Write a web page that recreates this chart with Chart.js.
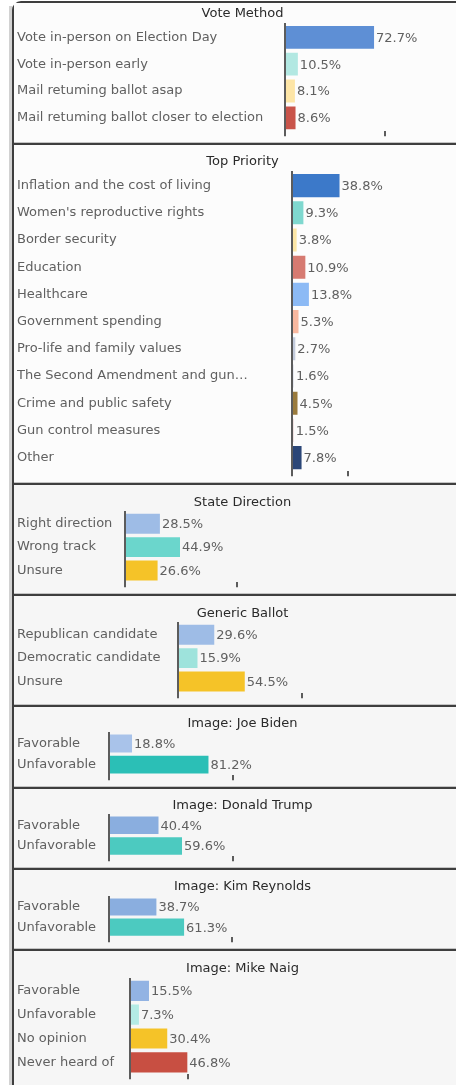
<!DOCTYPE html>
<html>
<head>
<meta charset="utf-8">
<script src="https://cdn.jsdelivr.net/npm/chart.js@4.4.1/dist/chart.umd.min.js"></script>
<style>
html, body {
    margin: 0;
    width: 456px;
    height: 1085px;
    overflow: hidden;
    background: #ffffff;
}
#edge {
    position: absolute;
    left: 9px;
    top: 6px;
    width: 3px;
    height: 1090px;
    background: #d2d2d2;
}
#frame {
    position: absolute;
    left: 12px;
    top: 1px;
    width: 470px;
    height: 1100px;
    border-left: 2px solid #3e3e3e;
    border-top: 2px solid #3e3e3e;
    border-top-left-radius: 9px;
    background: #fcfcfc;
}
.panel {
    position: absolute;
    left: 14px;
    width: 454px;
}
.panel canvas {
    display: block;
}
.sep {
    position: absolute;
    left: 14px;
    width: 454px;
    height: 2px;
    background: #3e3e3e;
    box-shadow: 0 1px 0 #c4c4c4, 0 -1px 0 #c4c4c4;
}
</style>
</head>
<body>
<div id="edge"></div>
<div id="frame"></div>

<script>
// ---- data ----
const voteLabels = [
    "Vote in-person on Election Day",
    "Vote in-person early",
    "Mail retuming ballot asap",
    "Mail retuming ballot closer to election"
];
const voteValues = [72.7, 10.5, 8.1, 8.6];

const priorityLabels = [
    "Inflation and the cost of living",
    "Women's reproductive rights",
    "Border security",
    "Education",
    "Healthcare",
    "Government spending",
    "Pro-life and family values",
    "The Second Amendment and gun…",
    "Crime and public safety",
    "Gun control measures",
    "Other"
];
const priorityValues = [38.8, 9.3, 3.8, 10.9, 13.8, 5.3, 2.7, 1.6, 4.5, 1.5, 7.8];

const stateLabels = ["Right direction", "Wrong track", "Unsure"];
const stateValues = [28.5, 44.9, 26.6];

const ballotLabels = ["Republican candidate", "Democratic candidate", "Unsure"];
const ballotValues = [29.6, 15.9, 54.5];

const imageLabels = ["Favorable", "Unfavorable"];
const bidenValues = [18.8, 81.2];
const trumpValues = [40.4, 59.6];
const reynoldsValues = [38.7, 61.3];

const naigLabels = ["Favorable", "Unfavorable", "No opinion", "Never heard of"];
const naigValues = [15.5, 7.3, 30.4, 46.8];

// single mid-axis tick mark of each panel (in %)
const axisTicks = [81.6, 45.7, 91.4, 101, 101, 101, 100, 47.3];

// ---- panels ----
const PX_PER_PCT = 1.225;
const FONT = "'DejaVu Sans', sans-serif";

const panels = [
    {
        title: "Vote Method", labels: voteLabels, values: voteValues,
        colors: ["#5e8fd5", "#b2e8e2", "#fde5a6", "#c9544a"],
        top: 3, bottom: 142, titleY: 14, chartTop: 24, chartBottom: 133, axisX: 285, bg: "#fcfcfc"
    },
    {
        title: "Top Priority", labels: priorityLabels, values: priorityValues,
        colors: ["#3c79c9", "#7fd8cf", "#fce6a6", "#d67a71", "#8cbaf5", "#f9b89f",
                 "#c3cbdc", "#e6e8f0", "#9a7b3d", "#efdede", "#2b4677"],
        top: 145, bottom: 482, titleY: 162, chartTop: 172, chartBottom: 473, axisX: 292, bg: "#fcfcfc"
    },
    {
        title: "State Direction", labels: stateLabels, values: stateValues,
        colors: ["#9ebce6", "#6bd6cc", "#f5c328"],
        top: 485, bottom: 593, titleY: 503, chartTop: 512, chartBottom: 583, axisX: 125, bg: "#f6f6f6"
    },
    {
        title: "Generic Ballot", labels: ballotLabels, values: ballotValues,
        colors: ["#9ebce6", "#9ee3dc", "#f5c328"],
        top: 596, bottom: 704, titleY: 614, chartTop: 623, chartBottom: 695, axisX: 178, bg: "#f6f6f6"
    },
    {
        title: "Image: Joe Biden", labels: imageLabels, values: bidenValues,
        colors: ["#a9c3ea", "#2bbfb6"],
        top: 707, bottom: 786, titleY: 724, chartTop: 733, chartBottom: 777, axisX: 109, bg: "#f6f6f6"
    },
    {
        title: "Image: Donald Trump", labels: imageLabels, values: trumpValues,
        colors: ["#8aaedf", "#4ccac0"],
        top: 789, bottom: 867, titleY: 806, chartTop: 815, chartBottom: 859, axisX: 109, bg: "#f6f6f6"
    },
    {
        title: "Image: Kim Reynolds", labels: imageLabels, values: reynoldsValues,
        colors: ["#8aaedf", "#4ccac0"],
        top: 870, bottom: 948, titleY: 887, chartTop: 897, chartBottom: 940, axisX: 109, bg: "#f6f6f6"
    },
    {
        title: "Image: Mike Naig", labels: naigLabels, values: naigValues,
        colors: ["#92b3e3", "#b4ebe5", "#f5c328", "#c84f42"],
        top: 951, bottom: 1085, titleY: 969, chartTop: 979, chartBottom: 1078, axisX: 130, bg: "#f6f6f6"
    }
];

// value labels drawn just after the end of each bar
const valueLabels = {
    id: "valueLabels",
    afterDatasetsDraw(chart) {
        const ctx = chart.ctx;
        const meta = chart.getDatasetMeta(0);
        const data = chart.data.datasets[0].data;
        ctx.save();
        ctx.font = "13px " + FONT;
        ctx.fillStyle = "#606060";
        ctx.textAlign = "left";
        ctx.textBaseline = "middle";
        meta.data.forEach((bar, i) => {
            ctx.fillText(data[i].toFixed(1) + "%", bar.x + 2, bar.y + 1);
        });
        ctx.restore();
    }
};

const LEFT = 14;
const RIGHT = 468;
const TICK_LEN = 5;

panels.forEach((p, idx) => {

    if (idx > 0) {
        const sep = document.createElement("div");
        sep.className = "sep";
        sep.style.top = (p.top - 2) + "px";
        document.body.appendChild(sep);
    }

    const box = document.createElement("div");
    box.className = "panel";
    box.style.top = p.top + "px";
    box.style.height = (p.bottom - p.top) + "px";
    box.style.background = p.bg;
    document.body.appendChild(box);

    const canvas = document.createElement("canvas");
    const h = p.bottom - p.top;
    canvas.width = RIGHT - LEFT;
    canvas.height = h;
    box.appendChild(canvas);

    const titleTop = p.titleY - p.top - 7.8;
    const titleBottom = p.chartTop - p.titleY - 7.8;
    const padBottom = h - TICK_LEN - (p.chartBottom - p.top);

    new Chart(canvas, {
        type: "bar",
        data: {
            labels: p.labels,
            datasets: [{
                data: p.values,
                backgroundColor: p.colors,
                borderWidth: 0,
                barPercentage: 0.85,
                categoryPercentage: 1
            }]
        },
        plugins: [valueLabels],
        options: {
            indexAxis: "y",
            responsive: false,
            animation: false,
            devicePixelRatio: 1,
            layout: {
                padding: { left: 3, right: 0, top: 0, bottom: padBottom }
            },
            plugins: {
                legend: { display: false },
                tooltip: { enabled: false },
                title: {
                    display: true,
                    text: p.title,
                    color: "#2a2a2a",
                    font: { family: FONT, size: 13, weight: "normal" },
                    padding: { top: titleTop, bottom: titleBottom }
                }
            },
            scales: {
                x: {
                    min: 0,
                    max: (RIGHT - p.axisX) / PX_PER_PCT,
                    afterBuildTicks(scale) {
                        scale.ticks = [{ value: 0 }, { value: axisTicks[idx] }];
                    },
                    border: { display: false },
                    grid: {
                        drawOnChartArea: false,
                        drawTicks: true,
                        tickLength: TICK_LEN,
                        color: "#5c5c5c",
                        lineWidth: 2
                    },
                    ticks: { display: false }
                },
                y: {
                    afterFit(scale) {
                        scale.width = p.axisX - LEFT - 3;
                    },
                    border: { display: true, color: "#5c5c5c", width: 2 },
                    grid: { display: false },
                    ticks: {
                        crossAlign: "far",
                        color: "#606060",
                        font: { family: FONT, size: 13 },
                        autoSkip: false
                    }
                }
            }
        }
    });
});
</script>
</body>
</html>
